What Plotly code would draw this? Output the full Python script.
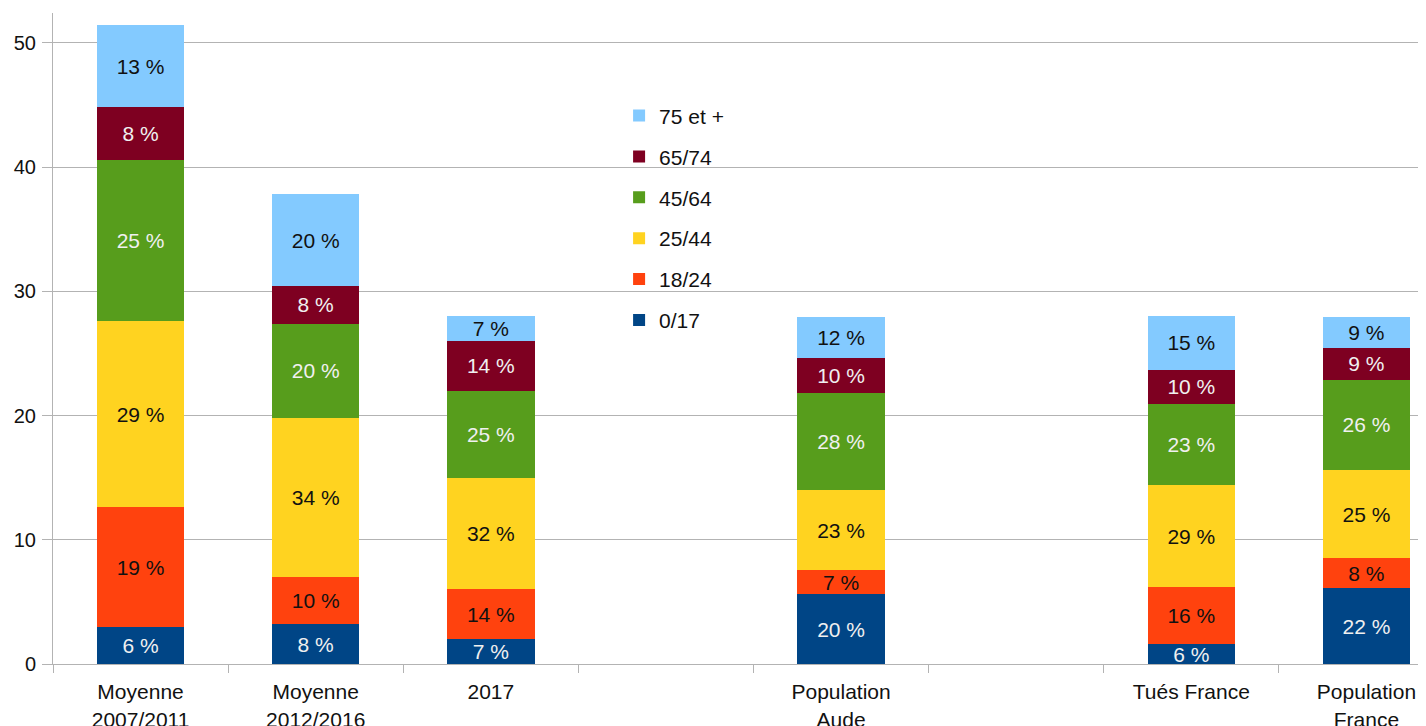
import plotly.graph_objects as go

categories = ["Moyenne<br>2007/2011", "Moyenne<br>2012/2016", "2017", " ",
              "Population<br>Aude", "  ", "Tués France", "Population<br>France"]

series_names = ["0/17", "18/24", "25/44", "45/64", "65/74", "75 et +"]

v_0_17 = [3.0, 3.2, 2.0, None, 5.6, None, 1.6, 6.1]
v_18_24 = [9.6, 3.8, 4.0, None, 1.95, None, 4.6, 2.4]
v_25_44 = [15.0, 12.8, 9.0, None, 6.45, None, 8.2, 7.1]
v_45_64 = [13.0, 7.6, 7.0, None, 7.8, None, 6.5, 7.3]
v_65_74 = [4.2, 3.0, 4.0, None, 2.8, None, 2.8, 2.5]
v_75p = [6.6, 7.4, 2.0, None, 3.3, None, 4.3, 2.5]

t_0_17 = ["6 %", "8 %", "7 %", "", "20 %", "", "6 %", "22 %"]
t_18_24 = ["19 %", "10 %", "14 %", "", "7 %", "", "16 %", "8 %"]
t_25_44 = ["29 %", "34 %", "32 %", "", "23 %", "", "29 %", "25 %"]
t_45_64 = ["25 %", "20 %", "25 %", "", "28 %", "", "23 %", "26 %"]
t_65_74 = ["8 %", "8 %", "14 %", "", "10 %", "", "10 %", "9 %"]
t_75p = ["13 %", "20 %", "7 %", "", "12 %", "", "15 %", "9 %"]

colors = ["#004586", "#ff420e", "#ffd320", "#579d1c", "#7e0021", "#83caff"]
text_colors = ["#f0f0f0", "#111111", "#111111", "#f0f0f0", "#f0f0f0", "#111111"]

values = [v_0_17, v_18_24, v_25_44, v_45_64, v_65_74, v_75p]
texts = [t_0_17, t_18_24, t_25_44, t_45_64, t_65_74, t_75p]

FONT = "Liberation Sans, Arial, sans-serif"

fig = go.Figure()
n = len(series_names)
for i, (name, vals, txt, col, tcol) in enumerate(zip(series_names, values, texts, colors, text_colors)):
    fig.add_trace(go.Bar(
        x=categories, y=vals, name=name, text=txt,
        textposition="inside", insidetextanchor="middle",
        textfont=dict(family=FONT, size=21, color=tcol),
        marker=dict(color=col, line=dict(width=0)),
        legendgroup=name, legendrank=n - i, hoverinfo="skip",
    ))

fig.update_layout(
    width=1426, height=718,
    barmode="stack", bargap=0.5,
    plot_bgcolor="white", paper_bgcolor="white",
    margin=dict(l=45, r=8, t=5, b=62),
    font=dict(family=FONT, size=21, color="#111111"),
    uniformtext=dict(minsize=21, mode="show"),
    showlegend=True,
    legend=dict(x=0.4123, y=0.8735, xanchor="left", yanchor="top",
                traceorder="grouped", tracegroupgap=10.6,
                font=dict(family=FONT, size=21, color="#111111"),
                bgcolor="rgba(0,0,0,0)"),
    xaxis=dict(type="category", categoryorder="array", categoryarray=categories,
               range=[-0.5, 7.34], showgrid=False, automargin=False,
               showline=True, linecolor="#b3b3b3", linewidth=1,
               ticks="outside", tickson="boundaries", ticklen=8,
               ticklabelstandoff=9,
               tickcolor="#b3b3b3", tickfont=dict(family=FONT, size=21, color="#111111")),
    yaxis=dict(range=[0, 52.4], tickvals=[0, 10, 20, 30, 40, 50],
               showgrid=True, gridcolor="#b3b3b3", gridwidth=1, automargin=False,
               showline=True, linecolor="#b3b3b3", linewidth=1,
               ticks="outside", ticklen=10, tickcolor="#b3b3b3",
               zeroline=False, ticklabelstandoff=2,
               tickfont=dict(family=FONT, size=20, color="#111111")),
)

fig.write_html("out.html")
